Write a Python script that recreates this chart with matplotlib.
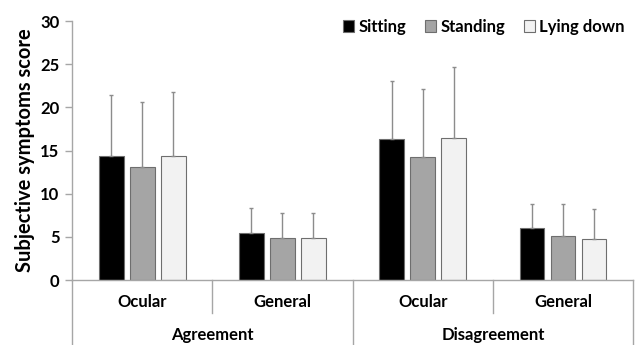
import matplotlib.pyplot as plt
import numpy as np

plt.rcParams['font.family'] = ['Lato', 'DejaVu Sans']
plt.rcParams['font.weight'] = 'bold'

groups = ['Agreement', 'Disagreement']
symptoms = ['Ocular', 'General', 'Ocular', 'General']
postures = ['Sitting', 'Standing', 'Lying down']

means = {
    'Sitting':    [14.4, 5.45, 16.3, 6.05],
    'Standing':   [13.1, 4.9, 14.3, 5.15],
    'Lying down': [14.4, 4.9, 16.4, 4.8],
}
sds = {
    'Sitting':    [7.0, 2.9, 6.8, 2.8],
    'Standing':   [7.5, 2.9, 7.8, 3.65],
    'Lying down': [7.4, 2.9, 8.3, 3.45],
}

colors = ['#000000', '#a5a5a5', '#f2f2f2']
axis_grey = '#a6a6a6'

fig = plt.figure(figsize=(6.43, 3.45), dpi=100)
ax = fig.add_axes([0.112, 0.1884, 0.8728, 0.7507])

x = np.arange(len(symptoms)) + 0.5
width = 0.176
step = 0.221
for i, p in enumerate(postures):
    ax.bar(x + (i - 1) * step, means[p], width, color=colors[i],
           edgecolor='#6e6e6e', linewidth=0.8, label=p, zorder=2,
           yerr=[np.zeros(len(symptoms)), sds[p]],
           error_kw=dict(ecolor='#8c8c8c', elinewidth=1.0, capsize=1.2, capthick=1.0))

ax.set_xlim(0, 4)
ax.set_ylim(0, 30)
ax.set_yticks(range(0, 31, 5))
ax.tick_params(axis='y', length=5, width=1, color=axis_grey, labelsize=12, pad=4)
ax.set_xticks([])
for s in ['top', 'right']:
    ax.spines[s].set_visible(False)
for s in ['left', 'bottom']:
    ax.spines[s].set_color(axis_grey)
    ax.spines[s].set_linewidth(1.0)
ax.spines['left'].set_bounds(0, 30)

# two-level category axis under the bars
tr = ax.get_xaxis_transform()
for xv in [0, 2, 4]:
    ax.plot([xv, xv], [0, -0.251], color=axis_grey, lw=1.0, transform=tr, clip_on=False)
for xv in [1, 3]:
    ax.plot([xv, xv], [0, -0.127], color=axis_grey, lw=1.0, transform=tr, clip_on=False)
for xv, s in zip(x, symptoms):
    ax.text(xv, -0.085, s, transform=tr, ha='center', va='center', fontsize=12, fontweight='bold')
for j, g in enumerate(groups):
    ax.text(2 * j + 1, -0.212, g, transform=tr, ha='center', va='center', fontsize=12, fontweight='bold')

ax.set_ylabel('Subjective symptoms score', fontsize=14.5, fontweight='bold', labelpad=4)

ax.legend(loc='upper right', bbox_to_anchor=(0.997, 1.035), ncol=3, frameon=False,
          fontsize=12, handlelength=0.7, handleheight=0.7, handletextpad=0.25,
          columnspacing=1.1, borderaxespad=0)

fig.savefig('out.png', dpi=100)
